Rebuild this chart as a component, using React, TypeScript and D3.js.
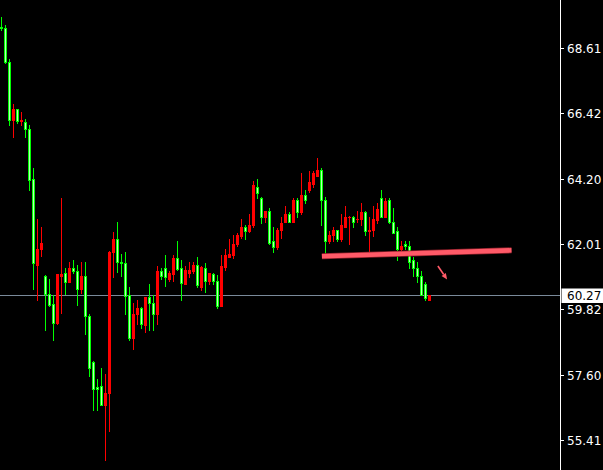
import React from "react";
import * as d3 from "d3";

// OHLC bars, oldest first
const opens = [
  69.33, 69.29, 68.15, 66.18, 66.57, 66.15, 66.13, 65.89, 64.18, 61.31,
  61.82, 60.94, 60.33, 59.99, 59.35, 60.93, 61.01, 60.72, 61.18, 61.11,
  60.50, 60.94, 59.59, 58.02, 57.18, 57.21, 56.57, 56.98, 61.73, 62.18,
  61.39, 61.35, 60.27, 58.83, 59.63, 59.83, 59.26, 60.20, 60.03, 59.66,
  61.09, 61.21, 60.84, 60.98, 61.52, 61.18, 60.67, 61.01, 61.11, 61.28,
  60.57, 61.21, 60.74, 60.98, 60.77, 59.91, 61.22, 61.58, 61.63, 61.99,
  62.26, 62.59, 62.44, 62.63, 63.94, 63.57, 62.90, 63.13, 62.12, 61.89,
  62.46, 62.76, 63.03, 62.76, 63.50, 63.07, 63.67, 63.81, 64.04, 64.31,
  64.51, 63.50, 62.09, 62.29, 62.46, 62.16, 62.59, 62.90, 62.93, 62.83,
  62.83, 63.07, 62.43, 62.49, 62.80, 63.57, 62.93, 63.47, 62.76, 62.43,
  61.82, 61.99, 61.95, 61.45, 61.21, 60.94, 60.64, 60.13,
];
const highs = [
  69.64, 69.40, 68.25, 66.71, 66.57, 66.44, 66.23, 66.00, 64.55, 62.83,
  62.59, 60.95, 60.81, 60.27, 60.99, 63.57, 61.21, 61.41, 61.48, 61.28,
  61.38, 61.38, 59.66, 58.05, 57.45, 57.82, 57.62, 61.76, 62.42, 62.75,
  61.65, 61.72, 60.54, 60.00, 60.10, 59.89, 60.20, 60.67, 60.27, 61.25,
  61.18, 61.62, 61.11, 61.62, 62.12, 61.45, 61.25, 61.41, 61.38, 61.58,
  61.25, 61.35, 61.04, 61.04, 60.97, 61.62, 61.82, 62.16, 62.29, 62.39,
  62.83, 62.66, 63.03, 64.14, 64.18, 63.60, 63.13, 63.20, 62.59, 62.53,
  62.90, 63.27, 63.07, 63.57, 63.57, 64.38, 63.81, 64.48, 64.48, 64.89,
  64.58, 63.60, 62.43, 62.56, 62.49, 63.00, 63.30, 62.96, 62.96, 63.13,
  63.37, 63.13, 62.90, 63.30, 63.40, 63.84, 63.54, 63.54, 63.23, 62.56,
  62.12, 62.09, 62.09, 61.55, 61.38, 61.11, 60.71, 60.27,
];
const lows = [
  69.21, 68.12, 66.00, 65.60, 66.07, 66.01, 65.60, 63.84, 60.50, 60.13,
  61.59, 59.12, 59.91, 58.76, 59.29, 59.69, 60.33, 60.71, 61.03, 59.94,
  60.36, 58.96, 57.55, 56.40, 56.40, 56.56, 54.72, 55.69, 60.90, 61.05,
  60.92, 59.63, 58.76, 58.45, 59.32, 59.18, 59.03, 59.12, 59.10, 59.32,
  60.84, 60.58, 60.74, 60.74, 61.12, 60.13, 60.65, 60.90, 61.04, 60.57,
  60.44, 60.40, 60.64, 60.67, 59.86, 59.90, 61.14, 61.55, 61.52, 61.92,
  62.22, 62.16, 62.40, 62.56, 63.54, 62.70, 62.76, 62.02, 61.75, 61.85,
  62.22, 62.73, 62.73, 62.73, 62.90, 63.03, 63.40, 63.74, 63.91, 64.28,
  62.63, 61.71, 62.05, 62.09, 62.12, 62.12, 62.56, 61.99, 62.56, 62.73,
  62.63, 62.29, 61.78, 62.26, 62.70, 62.90, 62.90, 62.70, 62.36, 61.48,
  61.68, 61.82, 61.21, 60.91, 60.71, 60.27, 60.13, 60.13,
];
const closes = [
  69.28, 68.13, 66.18, 66.57, 66.14, 66.18, 65.87, 64.15, 61.37, 61.85,
  62.05, 60.33, 59.95, 59.35, 60.98, 60.98, 60.72, 61.18, 61.11, 60.50,
  60.94, 59.57, 57.82, 57.11, 57.11, 56.59, 56.98, 61.74, 62.16, 61.39,
  61.36, 60.24, 58.83, 59.66, 59.83, 59.29, 60.20, 60.00, 59.66, 61.09,
  60.92, 60.90, 61.04, 61.52, 61.15, 60.70, 61.14, 61.14, 61.29, 60.61,
  61.22, 60.74, 61.01, 60.74, 59.91, 61.25, 61.62, 61.65, 61.99, 62.29,
  62.59, 62.44, 62.66, 63.98, 63.71, 62.90, 63.13, 62.05, 61.89, 62.49,
  62.70, 63.03, 62.76, 63.50, 63.07, 63.67, 63.50, 64.08, 64.38, 64.51,
  63.47, 62.09, 62.29, 62.46, 62.16, 62.63, 62.93, 62.93, 62.76, 62.86,
  63.07, 62.43, 62.49, 62.83, 63.17, 62.93, 63.44, 62.73, 62.39, 61.82,
  61.92, 61.92, 61.41, 61.18, 60.91, 60.30, 60.18, 60.27,
];

// Price axis labels
const tickValues = [68.61, 66.42, 64.2, 62.01, 59.82, 57.6, 55.41];
const lastPrice = 60.27;

// Drawn trend line and arrow, as [bar index, price]
const trendLine: [number, number][] = [
  [80.1, 61.59],
  [127.5, 61.79],
];
const arrowLine: [number, number][] = [
  [109.1, 61.26],
  [111.4, 60.81],
];

const W = 603;
const H = 470;
const plotRight = 560;

const UP = "#ff0000";
const DOWN = "#00ff00";
const DOWN_INNER = "#b8ffb8";
const PINK = "#ff5a68";

export default function App() {
  const x = d3.scaleLinear().domain([0, 1]).range([1.5, 5.5]);
  const y = d3.scaleLinear().domain([55.41, 68.61]).range([439.6, 48]);

  const bars = opens.map((o, i) => ({
    i,
    o,
    h: highs[i],
    l: lows[i],
    c: closes[i],
  }));

  const line = d3
    .line<[number, number]>()
    .x((d) => x(d[0]))
    .y((d) => y(d[1]));

  const a0 = arrowLine[0];
  const a1 = arrowLine[1];
  const ax0 = x(a0[0]);
  const ay0 = y(a0[1]);
  const ax1 = x(a1[0]);
  const ay1 = y(a1[1]);
  const ang = Math.atan2(ay1 - ay0, ax1 - ax0);
  const headLen = 6;
  const headW = 2.6;
  const bx = ax1 - headLen * Math.cos(ang);
  const by = ay1 - headLen * Math.sin(ang);
  const head = [
    [ax1, ay1],
    [bx - headW * Math.sin(ang), by + headW * Math.cos(ang)],
    [bx + headW * Math.sin(ang), by - headW * Math.cos(ang)],
  ];

  const lastY = Math.round(y(lastPrice)) + 0.5;

  return (
    <svg
      width={W}
      height={H}
      style={{ position: "fixed", left: 0, top: 0, display: "block", background: "#000" }}
    >
      <rect x={0} y={0} width={W} height={H} fill="#000" />

      {/* current price line */}
      <line x1={0} x2={plotRight} y1={lastY} y2={lastY} stroke="#7a8a9a" strokeWidth={1} />

      {/* candles */}
      <g>
        {bars.map((b) => {
          const cx = Math.floor(x(b.i));
          const up = b.c >= b.o;
          const col = up ? UP : DOWN;
          const yh = Math.round(y(b.h));
          const yl = Math.round(y(b.l));
          const top = Math.round(y(Math.max(b.o, b.c)));
          const bot = Math.round(y(Math.min(b.o, b.c)));
          const bh = Math.max(1, bot - top + 1);
          return (
            <g key={b.i}>
              <rect x={cx} y={yh} width={1} height={Math.max(1, yl - yh + 1)} fill={col} />
              <rect x={cx - 1} y={top} width={3} height={bh} fill={col} />
              {!up && bh > 2 ? (
                <rect x={cx} y={top + 1} width={1} height={bh - 2} fill={DOWN_INNER} />
              ) : null}
            </g>
          );
        })}
      </g>

      {/* trend line */}
      <path d={line(trendLine) || ""} stroke="#8a1e28" strokeWidth={6} fill="none" />
      <path d={line(trendLine) || ""} stroke={PINK} strokeWidth={4.5} fill="none" />

      {/* arrow */}
      <line x1={ax0} y1={ay0} x2={bx} y2={by} stroke={PINK} strokeWidth={1.6} />
      <path d={`M${head.map((p) => p.join(",")).join("L")}Z`} fill={PINK} />

      {/* price axis */}
      <line x1={plotRight + 0.5} x2={plotRight + 0.5} y1={0} y2={H} stroke="#ffffff" strokeWidth={1} />
      {tickValues.map((v) => {
        const ty = Math.round(y(v)) + 0.5;
        return (
          <g key={v}>
            <line x1={plotRight + 1} x2={plotRight + 4} y1={ty} y2={ty} stroke="#ffffff" strokeWidth={1} />
            <text
              x={567}
              y={ty}
              dy="0.36em"
              fill="#ffffff"
              fontFamily="DejaVu Sans, Verdana, sans-serif"
              fontSize={12}
            >
              {v.toFixed(2)}
            </text>
          </g>
        );
      })}

      {/* current price label */}
      <rect x={plotRight + 1.5} y={lastY - 7} width={W - plotRight - 1.5} height={14.5} fill="#ffffff" />
      <text
        x={567}
        y={lastY}
        dy="0.36em"
        fill="#000000"
        fontFamily="DejaVu Sans, Verdana, sans-serif"
        fontSize={12}
      >
        {lastPrice.toFixed(2)}
      </text>
    </svg>
  );
}
